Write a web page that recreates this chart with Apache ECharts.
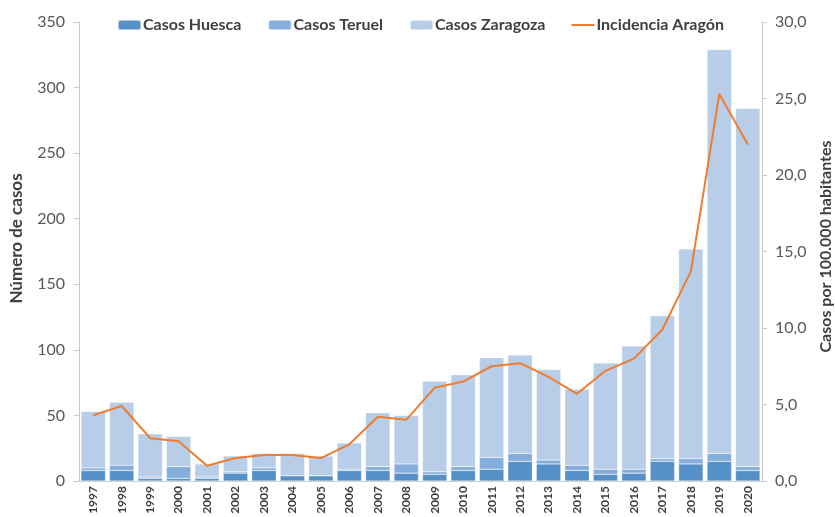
<!DOCTYPE html>
<html>
<head>
<meta charset="utf-8">
<script src="https://cdn.jsdelivr.net/npm/echarts@6/dist/echarts.min.js"></script>
<style>
  html, body { margin: 0; padding: 0; background: #fff; }
  #chart { width: 835px; height: 517px; }
</style>
</head>
<body>
<div id="chart"></div>
<script>
const years = ['1997', '1998', '1999', '2000', '2001', '2002', '2003', '2004', '2005', '2006', '2007', '2008',
  '2009', '2010', '2011', '2012', '2013', '2014', '2015', '2016', '2017', '2018', '2019', '2020']

// casos por provincia
const huesca = [8, 8, 2, 2, 2, 6, 8, 4, 4, 8, 8, 6, 5, 8, 9, 15, 13, 8, 5, 6, 15, 13, 15, 8]
const teruel = [2, 4, 1, 9, 1, 1, 2, 0, 0, 1, 3, 7, 2, 3, 9, 6, 3, 4, 4, 3, 2, 4, 6, 3]
const zaragoza = [43, 48, 33, 23, 10, 12, 11, 17, 15, 20, 41, 37, 69, 70, 76, 75, 69, 58, 81, 94, 109, 160, 308, 273]

// incidencia por 100.000 habitantes
const incidencia = [4.3, 4.9, 2.8, 2.6, 1.0, 1.5, 1.7, 1.7, 1.5, 2.4, 4.2, 4.0,
  6.1, 6.5, 7.5, 7.7, 6.8, 5.7, 7.2, 8.0, 9.9, 13.7, 25.3, 22.0]

const leftTicks = { min: 0, max: 350, interval: 50 }
const rightTicks = { min: 0, max: 30, interval: 5 }

const FONT = 'Lato'
const chart = echarts.init(document.getElementById('chart'))

const barSeries = (name, data, color) => ({
  name,
  type: 'bar',
  stack: 'casos',
  data,
  barCategoryGap: '14%',
  itemStyle: { color, borderColor: 'rgba(255,255,255,0.5)', borderWidth: 0.5 },
})

chart.setOption({
  backgroundColor: '#fff',
  textStyle: { fontFamily: FONT },
  legend: {
    top: 12,
    left: 112,
    itemWidth: 23,
    itemHeight: 10,
    itemGap: 26,
    textStyle: { fontSize: 16, fontWeight: 'bold', color: '#404040', fontFamily: FONT, padding: [0, 0, 0, -3] },
    data: [
      'Casos Huesca',
      'Casos Teruel',
      'Casos Zaragoza',
      { name: 'Incidencia Aragón', icon: 'path://M0,0H22V2H0Z' },
    ],
  },
  grid: { left: 79, right: 73, top: 22, bottom: 36, outerBoundsMode: 'none' },
  xAxis: {
    type: 'category',
    data: years,
    axisLine: { lineStyle: { color: '#d0d0d0' } },
    axisTick: { show: false },
    axisLabel: {
      rotate: 90,
      interval: 0,
      fontSize: 12,
      fontWeight: 'bold',
      color: '#404040',
      fontFamily: FONT,
      margin: 5,
    },
  },
  yAxis: [
    {
      type: 'value',
      ...leftTicks,
      name: 'Número de casos',
      nameLocation: 'middle',
      nameGap: 54,
      nameTextStyle: { fontSize: 17, fontWeight: 'bold', color: '#404040', fontFamily: FONT, padding: [0, 0, 0, 26] },
      axisLine: { show: true, lineStyle: { color: '#c8c8c8' } },
      axisTick: { show: true, length: 5, lineStyle: { color: '#c8c8c8' } },
      splitLine: { show: false },
      axisLabel: { fontSize: 16, color: '#595959', margin: 14, fontFamily: FONT },
    },
    {
      type: 'value',
      ...rightTicks,
      name: 'Casos por 100.000 habitantes',
      nameLocation: 'middle',
      nameGap: 56,
      nameTextStyle: { fontSize: 16, fontWeight: 'bold', color: '#404040', fontFamily: FONT, padding: [0, 0, 0, 10] },
      axisLine: { show: true, lineStyle: { color: '#c8c8c8' } },
      axisTick: { show: true, length: 5, lineStyle: { color: '#c8c8c8' } },
      splitLine: { show: false },
      axisLabel: {
        fontSize: 16,
        color: '#595959',
        margin: 13,
        fontFamily: FONT,
        formatter: v => v.toFixed(1).replace('.', ','),
      },
    },
  ],
  series: [
    barSeries('Casos Huesca', huesca, '#5590c8'),
    barSeries('Casos Teruel', teruel, '#85aedd'),
    barSeries('Casos Zaragoza', zaragoza, '#b8cde8'),
    {
      name: 'Incidencia Aragón',
      type: 'line',
      yAxisIndex: 1,
      data: incidencia,
      symbol: 'none',
      lineStyle: { color: '#ed7d31', width: 2 },
      itemStyle: { color: '#ed7d31' },
    },
  ],
})
</script>
</body>
</html>
